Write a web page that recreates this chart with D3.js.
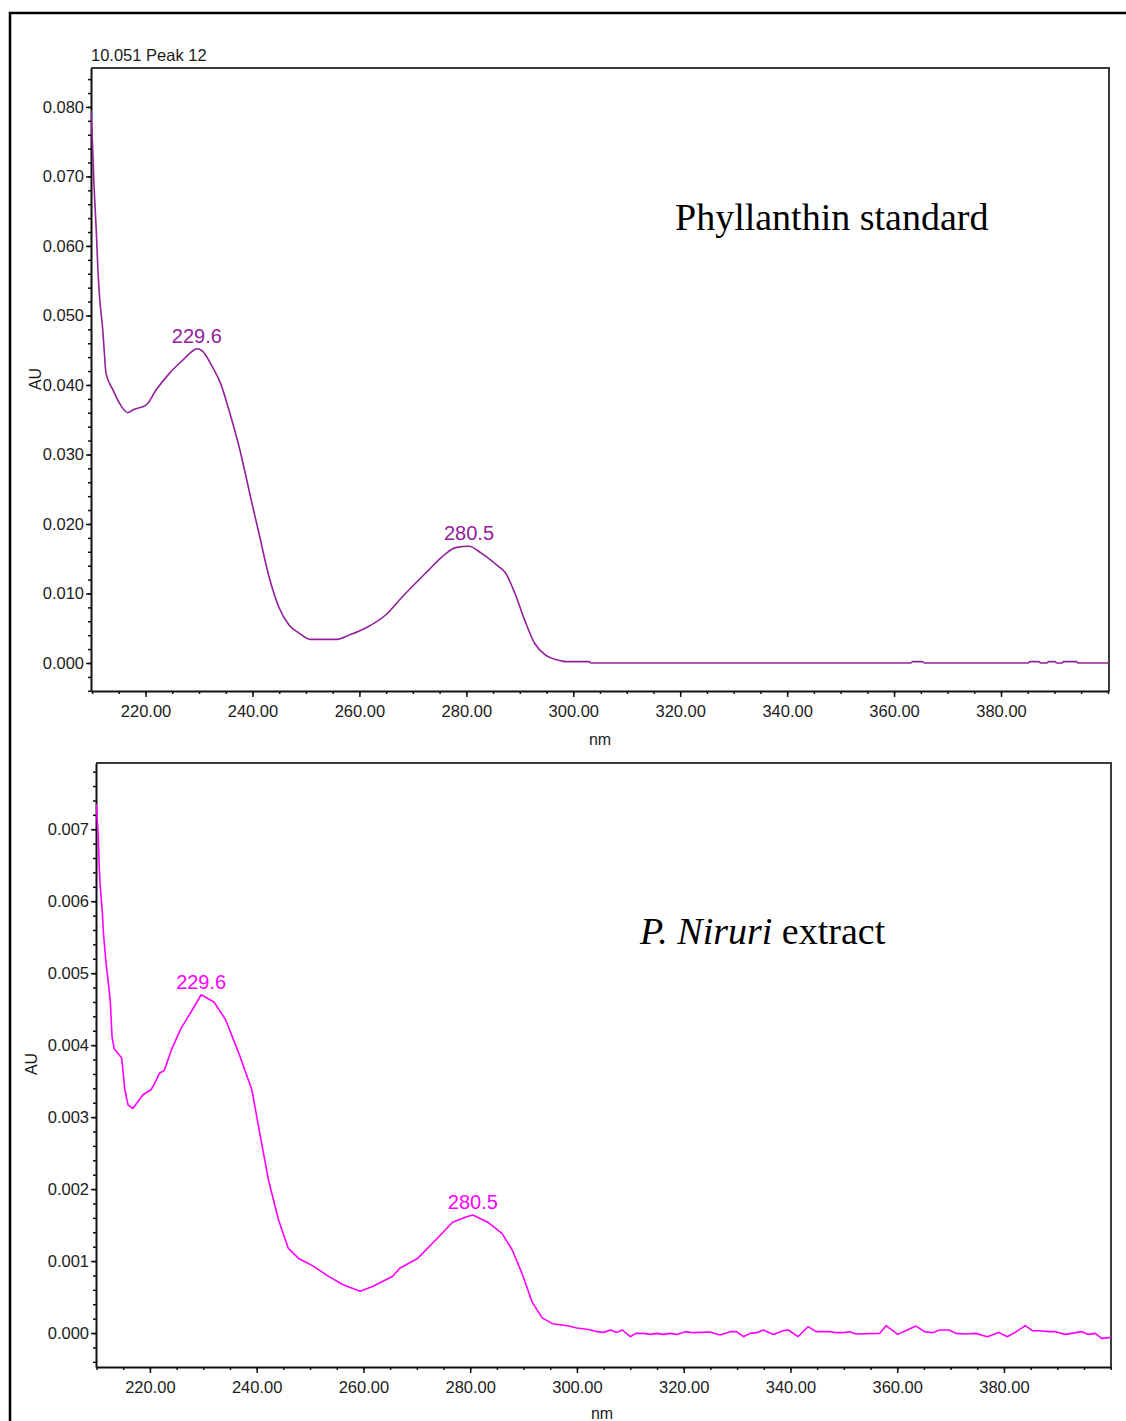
<!DOCTYPE html>
<html>
<head>
<meta charset="utf-8">
<script src="https://cdn.jsdelivr.net/npm/d3@7"></script>
<style>
  body { margin: 0; background: #fff; }
  svg { display: block; }
</style>
</head>
<body>
<script>
// ---- data ---------------------------------------------------------------
const xTickValues = [220, 240, 260, 280, 300, 320, 340, 360, 380];
const stdTickValues = [0, 0.01, 0.02, 0.03, 0.04, 0.05, 0.06, 0.07, 0.08];
const extTickValues = [0, 0.001, 0.002, 0.003, 0.004, 0.005, 0.006, 0.007];
const peakWavelengths = [229.6, 280.5];

// Phyllanthin standard spectrum (nm, AU)
const stdWavelength = [
  209.8, 210.1, 210.3, 210.8, 211.1, 211.4, 212.0, 212.3, 212.6, 213.9,
  215.1, 216.7, 217.6, 220.1, 222.0, 224.5, 227.0, 229.0, 229.6, 230.6,
  232.5, 234.0, 235.6, 237.5, 239.9, 241.2, 243.1, 244.9, 246.8, 248.7,
  250.8, 255.8, 258.0, 261.1, 264.9, 268.0, 273.0, 275.5, 278.0, 280.5,
  282.8, 286.0, 287.2, 289.1, 290.9, 292.8, 294.7, 297.8, 298.6, 303.0,
  303.3, 363.1, 363.5, 365.3, 365.7, 385.1, 385.4, 387.1, 387.4, 388.6,
  388.9, 390.1, 390.4, 391.4, 391.7, 394.1, 394.4, 400.2
];
const stdAbsorbance = [
  0.0795, 0.0743, 0.0700, 0.0619, 0.0565, 0.0527, 0.0479, 0.0446, 0.0417, 0.0393,
  0.0374, 0.0360, 0.0364, 0.0371, 0.0393, 0.0417, 0.0436, 0.0450, 0.0452, 0.0449,
  0.0426, 0.0403, 0.0364, 0.0311, 0.0230, 0.0187, 0.0124, 0.0081, 0.0055, 0.0043,
  0.0034, 0.0034, 0.0040, 0.0050, 0.0069, 0.0095, 0.0134, 0.0153, 0.0166, 0.0168,
  0.0158, 0.0139, 0.0131, 0.0100, 0.0062, 0.0028, 0.0012, 0.0003, 0.0002, 0.0002,
  0.0000, 0.0000, 0.0002, 0.0002, 0.0000, 0.0000, 0.0002, 0.0002, 0.0000, 0.0000,
  0.0002, 0.0002, 0.0000, 0.0000, 0.0002, 0.0002, 0.0000, 0.0000
];

// P. niruri extract spectrum (nm, AU)
const extWavelength = [
  209.95, 210.3, 210.5, 210.7, 211.1, 211.3, 211.8, 212.3, 212.6, 212.9,
  213.3, 214.3, 214.7, 215.0, 215.3, 215.9, 216.8, 217.7, 218.7, 220.2,
  220.9, 221.8, 222.7, 224.0, 225.8, 227.7, 229.6, 232.0, 234.2, 236.9,
  239.1, 240.7, 242.2, 244.1, 245.9, 247.8, 250.6, 253.4, 256.2, 259.4,
  261.8, 265.5, 266.8, 270.2, 273.9, 276.7, 279.5, 280.5, 283.3, 286.0,
  287.9, 289.8, 291.6, 293.5, 295.4, 298.2, 300.0, 302.2, 303.8, 305.0,
  306.3, 307.5, 308.5, 310.0, 311.0, 312.5, 313.8, 315.0, 316.2, 317.5,
  318.7, 320.3, 321.8, 324.9, 326.8, 328.7, 329.9, 331.2, 332.4, 333.7,
  334.9, 336.8, 338.6, 339.6, 341.4, 343.3, 344.8, 347.3, 348.6, 349.8,
  351.1, 352.3, 356.7, 357.9, 360.1, 361.6, 363.5, 365.1, 366.6, 367.9,
  369.7, 371.0, 372.8, 374.7, 376.9, 379.0, 380.6, 382.1, 384.0, 385.3,
  386.5, 388.4, 389.6, 391.5, 394.6, 395.8, 397.1, 398.3, 400.05
];
const extAbsorbance = [
  0.00735, 0.00694, 0.00648, 0.00620, 0.00583, 0.00555, 0.00513, 0.00481, 0.00458, 0.00412,
  0.00395, 0.00386, 0.00382, 0.00361, 0.00338, 0.00317, 0.00312, 0.00321, 0.00331, 0.00338,
  0.00347, 0.00361, 0.00365, 0.00393, 0.00423, 0.00446, 0.00470, 0.00460, 0.00435, 0.00384,
  0.00338, 0.00273, 0.00213, 0.00157, 0.00118, 0.00104, 0.00093, 0.00079, 0.00067, 0.00058,
  0.00065, 0.00079, 0.00090, 0.00104, 0.00132, 0.00154, 0.00162, 0.00164, 0.00154, 0.00138,
  0.00115, 0.00081, 0.00043, 0.00021, 0.00013, 0.00010, 0.00007, 0.00005, 0.000019, 0.000009,
  0.000042, 0.000009, 0.000042, -0.000051, -0.000005, -0.000005, -0.000019, -0.000005, -0.000019, -0.000005,
  -0.000019, 0.000019, 0.000005, 0.000014, -0.000028, 0.000019, 0.000019, -0.000051, -0.000005, 0.000005,
  0.000042, -0.000019, 0.000032, 0.000042, -0.000051, 0.000088, 0.000019, 0.000019, 0.000005, 0.000005,
  0.000019, -0.000014, -0.000005, 0.000102, -0.000019, 0.000032, 0.000097, 0.000019, 0.000005, 0.000042,
  0.000042, -0.000005, -0.000014, -0.000005, -0.000051, 0.000009, -0.000051, 0.000009, 0.000102, 0.000032,
  0.000032, 0.000019, 0.000019, -0.000019, 0.000019, -0.000019, -0.000005, -0.000074, -0.000060
];

// ---- drawing ------------------------------------------------------------
const W = 1126, H = 1421;
const svg = d3.select("body").append("svg")
  .attr("width", W).attr("height", H)
  .style("font-family", "'Liberation Sans', Arial, sans-serif");

svg.append("rect").attr("width", W).attr("height", H).attr("fill", "#fff");

// outer figure frame (runs off the right and bottom edges)
svg.append("rect")
  .attr("x", 10).attr("y", 13).attr("width", W + 40).attr("height", H + 40)
  .attr("fill", "none").attr("stroke", "#000").attr("stroke-width", 2.5);

function drawPanel(cfg) {
  const x = d3.scaleLinear().domain(cfg.xDomain).range([cfg.left, cfg.right]);
  const y = d3.scaleLinear().domain(cfg.yDomain).range([cfg.bottom, cfg.top]);
  const g = svg.append("g");

  // top and right edges of the plot box
  g.append("path")
    .attr("d", `M${cfg.left},${cfg.top}H${cfg.right}V${cfg.bottom}`)
    .attr("fill", "none").attr("stroke", "#3a3a3a").attr("stroke-width", 2);

  // x axis: minor then major ticks
  g.append("g")
    .attr("transform", `translate(0,${cfg.bottom})`)
    .call(d3.axisBottom(x).tickValues(d3.range(210, 401, 5)).tickSize(3).tickFormat(""))
    .call(a => a.select(".domain").remove())
    .call(a => a.selectAll("line").attr("stroke", "#111").attr("stroke-width", 1.5));

  const xa = g.append("g")
    .attr("transform", `translate(0,${cfg.bottom})`)
    .call(d3.axisBottom(x).tickValues(xTickValues).tickSize(6).tickSizeOuter(0)
      .tickPadding(8).tickFormat(d3.format(".2f")));
  xa.select(".domain").attr("stroke", "#111").attr("stroke-width", 2);
  xa.selectAll("line").attr("stroke", "#111").attr("stroke-width", 1.5);
  xa.selectAll("text").attr("font-size", 16.5).attr("fill", "#1c1c1c")
    .attr("font-family", "'Liberation Sans', Arial, sans-serif");

  // y axis: minor then major ticks
  const minor = cfg.minorY.filter(v => v >= cfg.yDomain[0] && v <= cfg.yDomain[1]);
  g.append("g")
    .attr("transform", `translate(${cfg.left},0)`)
    .call(d3.axisLeft(y).tickValues(minor).tickSize(3).tickFormat(""))
    .call(a => a.select(".domain").remove())
    .call(a => a.selectAll("line").attr("stroke", "#111").attr("stroke-width", 1.5));

  const ya = g.append("g")
    .attr("transform", `translate(${cfg.left},0)`)
    .call(d3.axisLeft(y).tickValues(cfg.yTicks).tickSize(5).tickSizeOuter(0)
      .tickPadding(2).tickFormat(d3.format(".3f")));
  ya.select(".domain").attr("stroke", "#111").attr("stroke-width", 2);
  ya.selectAll("line").attr("stroke", "#111").attr("stroke-width", 1.5);
  ya.selectAll("text").attr("font-size", 16.5).attr("fill", "#1c1c1c")
    .attr("font-family", "'Liberation Sans', Arial, sans-serif");

  // axis titles
  g.append("text")
    .attr("x", cfg.nmX).attr("y", cfg.nmY)
    .attr("text-anchor", "middle").attr("font-size", 16).attr("fill", "#1c1c1c")
    .text("nm");
  g.append("text")
    .attr("transform", `translate(${cfg.auX},${cfg.auY}) rotate(-90)`)
    .attr("text-anchor", "middle").attr("font-size", 16).attr("fill", "#1c1c1c")
    .text("AU");

  // spectrum
  const clipId = "clip" + cfg.id;
  svg.append("clipPath").attr("id", clipId).append("rect")
    .attr("x", cfg.left).attr("y", cfg.top)
    .attr("width", cfg.right - cfg.left).attr("height", cfg.bottom - cfg.top);

  const pts = cfg.wl.map((w, i) => [w, cfg.ab[i]]);
  g.append("path")
    .datum(pts)
    .attr("clip-path", `url(#${clipId})`)
    .attr("fill", "none")
    .attr("stroke", cfg.color)
    .attr("stroke-width", 1.6)
    .attr("stroke-linejoin", "round")
    .attr("d", d3.line().x(d => x(d[0])).y(d => y(d[1])).curve(cfg.curve));

  // peak annotations
  peakWavelengths.forEach(p => {
    const i = cfg.wl.indexOf(p);
    g.append("text")
      .attr("x", x(p)).attr("y", y(cfg.ab[i]) - 6)
      .attr("text-anchor", "middle").attr("font-size", 20)
      .attr("fill", cfg.color)
      .text(p.toFixed(1));
  });

  return { x, y, g };
}

const stdPanel = drawPanel({
  id: "std",
  left: 91, right: 1109, top: 68, bottom: 691,
  xDomain: [209.8, 400.2], yDomain: [-0.00403, 0.0856],
  yTicks: stdTickValues,
  minorY: d3.range(-2, 44).map(i => +(i * 0.002).toFixed(4)),
  wl: stdWavelength, ab: stdAbsorbance,
  color: "#92209a", curve: d3.curveMonotoneX,
  auX: 41, auY: 379, nmX: 600, nmY: 745
});

const extPanel = drawPanel({
  id: "ext",
  left: 96, right: 1111, top: 763, bottom: 1367,
  xDomain: [209.9, 400.05], yDomain: [-0.000472, 0.00792],
  yTicks: extTickValues,
  minorY: d3.range(-2, 40).map(i => +(i * 0.0002).toFixed(5)),
  wl: extWavelength, ab: extAbsorbance,
  color: "#ff00ff", curve: d3.curveLinear,
  auX: 37, auY: 1064, nmX: 602, nmY: 1419
});

// header and panel titles
svg.append("text")
  .attr("x", 91).attr("y", 61)
  .attr("font-size", 16.5).attr("fill", "#1c1c1c")
  .text("10.051 Peak 12");

svg.append("text")
  .attr("x", 675).attr("y", 230)
  .attr("font-family", "'Liberation Serif', 'Times New Roman', serif")
  .attr("font-size", 38).attr("fill", "#000")
  .text("Phyllanthin standard");

const t2 = svg.append("text")
  .attr("x", 640).attr("y", 944)
  .attr("font-family", "'Liberation Serif', 'Times New Roman', serif")
  .attr("font-size", 38).attr("fill", "#000");
t2.append("tspan").attr("font-style", "italic").text("P. Niruri");
t2.append("tspan").text(" extract");
</script>
</body>
</html>
